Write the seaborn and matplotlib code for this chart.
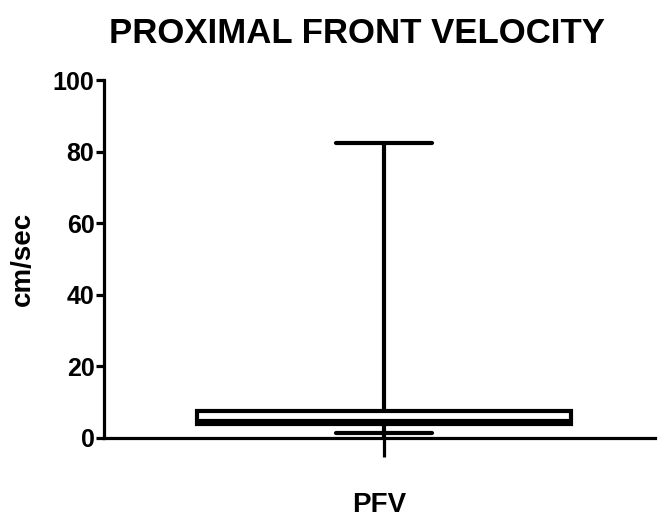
import matplotlib
matplotlib.use('Agg')
import matplotlib.pyplot as plt
import seaborn as sns
import pandas as pd

# valeurs (min, Q1, médiane, Q3, max)
groupe = ['PFV'] * 5
vitesse = [1.4, 3.8, 4.8, 7.5, 82.5]

data = pd.DataFrame({'groupe': groupe, 'vitesse': vitesse})

sns.set_style('white')
plt.rcParams['font.family'] = ['Liberation Sans', 'DejaVu Sans']
plt.rcParams['text.color'] = 'black'
plt.rcParams['axes.labelcolor'] = 'black'
plt.rcParams['xtick.color'] = 'black'
plt.rcParams['ytick.color'] = 'black'

fig = plt.figure(figsize=(6.59, 5.2), dpi=100)
ax = fig.add_axes([0.158, 0.158, 0.836, 0.688])

sns.boxplot(data=data, x='groupe', y='vitesse', whis=(0, 100), width=0.68,
            color='white', linecolor='black', linewidth=3, ax=ax)

# capuchons des moustaches plus courts, moustache basse jusqu'à l'axe
for ln in ax.lines:
    xd = list(ln.get_xdata())
    yd = list(ln.get_ydata())
    if len(xd) == 2 and yd[0] == yd[1] and yd[0] in (vitesse[0], vitesse[-1]):
        ln.set_xdata([-0.087, 0.087])
    elif len(xd) == 2 and xd[0] == xd[1] and min(yd) == vitesse[0]:
        ln.set_ydata([0, vitesse[1]])
    ln.set_solid_capstyle('round')

ax.set_xlim(-0.508, 0.492)
ax.set_ylim(0, 100)
ax.set_yticks([0, 20, 40, 60, 80, 100])

for s in ['top', 'right']:
    ax.spines[s].set_visible(False)
for s in ['left', 'bottom']:
    ax.spines[s].set_linewidth(2.3)
    ax.spines[s].set_color('black')

ax.tick_params(axis='y', direction='out', length=6, width=2.3, left=True,
               labelsize=18, pad=1)
ax.tick_params(axis='x', direction='out', length=14, width=2.3, bottom=True,
               labelbottom=False)
for lab in ax.get_yticklabels():
    lab.set_fontweight('bold')

ax.set_xlabel('PFV', fontsize=20, fontweight='bold', labelpad=25)
ax.set_ylabel('cm/sec', fontsize=20, fontweight='bold', labelpad=12)
fig.text(0.542, 0.935, 'PROXIMAL FRONT VELOCITY', fontsize=25, fontweight='bold',
         ha='center', va='center')

plt.savefig('out.png', dpi=100)
